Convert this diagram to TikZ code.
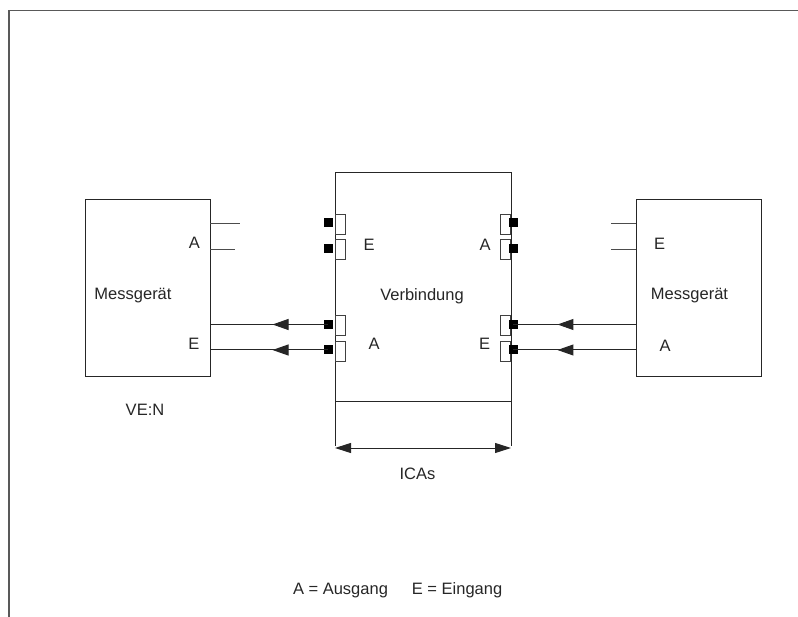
\documentclass[tikz,border=0pt]{standalone}
\usepackage{fontspec}
\setmainfont{Liberation Sans}
\usetikzlibrary{arrows.meta,decorations.markings}
\begin{document}
\begin{tikzpicture}[x=1pt,y=-1pt,
  every node/.style={inner sep=0pt,outer sep=0pt},
  txt/.style={font=\fontsize{16.5}{19}\selectfont, text=black!85},
  dev/.style={draw=black!85, line width=1pt, minimum width=125pt, minimum height=177pt},
  port/.style={draw=black!75, line width=0.9pt, minimum width=10pt, minimum height=20pt},
  sq/.style={fill=black, minimum width=9pt, minimum height=9pt},
  wire/.style={draw=black!85, line width=1pt},
  midarrow/.style={postaction={decorate}, decoration={markings,
     mark=at position #1 with {\arrow{Triangle[length=16pt,width=11pt]}}}}
]
\useasboundingbox (0,0) rectangle (798,617);
% frame
\draw[black!65, line width=1.6pt] (9,617) -- (9,10.5) -- (798,10.5);

% devices
\node[dev] (ml) at (147.5,287.75) {};
\node[dev] (mr) at (698.5,287.75) {};
\node[draw=black!85, line width=1pt, minimum width=176pt, minimum height=229pt] (cb) at (423,287.5) {};

% ports of the center box
\foreach \i/\y in {1/224,2/249.5,3/325.5,4/351}{
  \node[port] (pl\i) at (340.3,\y) {};
  \node[sq] (sl\i) at (328,\y-1) {};
  \node[port] (pr\i) at (505.8,\y) {};
  \node[sq] (sr\i) at (513.3,\y-1) {};
}

% stubs
\coordinate (s1) at (240,224);
\coordinate (s2) at (235,249.5);
\coordinate (s3) at (611,224);
\coordinate (s4) at (611,249.5);
\draw[wire, black!70] (ml.east |- s1) -- (s1);
\draw[wire, black!70] (ml.east |- s2) -- (s2);
\draw[wire, black!70] (s3) -- (mr.west |- s3);
\draw[wire, black!70] (s4) -- (mr.west |- s4);

% arrowed connectors
\draw[wire, midarrow=0.47] (sl3.center) -- (ml.east |- sl3.center);
\draw[wire, midarrow=0.47] (sl4.center) -- (ml.east |- sl4.center);
\draw[wire, midarrow=0.64] (mr.west |- sr3.center) -- (sr3.center);
\draw[wire, midarrow=0.64] (mr.west |- sr4.center) -- (sr4.center);

% dimension
\coordinate (dL) at (335,448);
\coordinate (dR) at (511,448);
\draw[wire] (cb.south west) -- ([yshift=2pt]dL);
\draw[wire] (cb.south east) -- ([yshift=2pt]dR);
\draw[wire, {Triangle[length=16pt,width=10pt]}-{Triangle[length=16pt,width=10pt]}] (dL) -- (dR);

% labels
\node[txt] (la1) at (194.3,243) {A};
\node[txt] (le1) at (194,344) {E};
\node[txt] (mt1) at (133,296) {Messgerät};
\node[txt] (ce1) at (369,245) {E};
\node[txt] (ca1) at (374,344) {A};
\node[txt] (ca2) at (485,245) {A};
\node[txt] (ce2) at (484.5,344) {E};
\node[txt] (vt) at (422,296) {Verbindung};
\node[txt] (re1) at (659.7,244) {E};
\node[txt] (mt2) at (689.5,296) {Messgerät};
\node[txt] (ra1) at (665,346) {A};
\node[txt] (ven) at (145,410) {VE:N};
\node[txt] (ica) at (417.5,474) {ICAs};
\node[txt, anchor=west] (leg) at (293,590) {A = Ausgang\hspace{1.45em}E = Eingang};
\end{tikzpicture}
\end{document}
